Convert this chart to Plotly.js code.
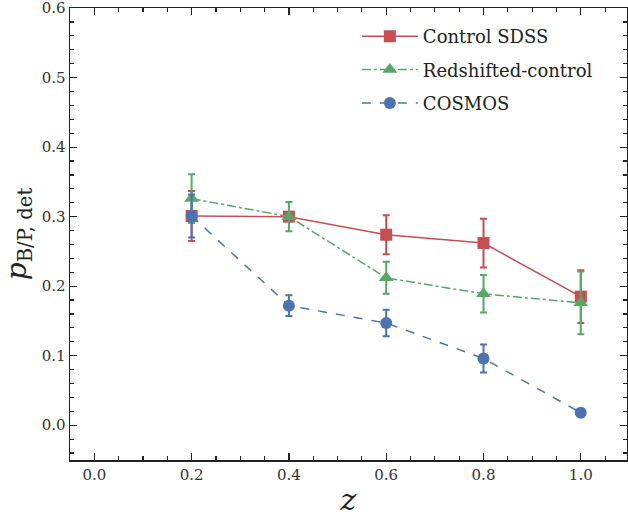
<!DOCTYPE html>
<html><head><meta charset="utf-8">
<script src="https://cdn.plot.ly/plotly-3.0.1.min.js"></script>
<style>body{margin:0;padding:0;background:#fff}#chart{width:628px;height:520px}</style>
</head><body><div id="chart"></div>
<script>
const zVals = [0.2, 0.4, 0.6, 0.8, 1.0];
const sdss = [0.301, 0.300, 0.274, 0.262, 0.185];
const sdssErr = [0.036, 0.006, 0.028, 0.035, 0.038];
const redshifted = [0.326, 0.300, 0.212, 0.189, 0.176];
const redshiftedErr = [0.035, 0.021, 0.023, 0.027, 0.045];
const cosmos = [0.301, 0.172, 0.147, 0.096, 0.018];
const cosmosErr = [0.031, 0.015, 0.019, 0.020, 0.005];
const names = ['Control SDSS', 'Redshifted-control', 'COSMOS'];

const FONT = 'DejaVu Serif';
const C = {red:'#C44E52', green:'#55A868', blue:'#4C72B0'};

function tr(name, y, err, color, dash, symbol, size, grp){
  return {x: zVals, y: y, name: name, type:'scatter', mode:'lines+markers', legendgroup:grp,
    line:{color:color, width:1.5, dash:dash},
    marker:{color:color, symbol:symbol, size:size, line:{width:0}},
    error_y:{type:'data', array: err, visible:true, color:color, thickness:2, width:3.5}};
}
const data = [
  tr(names[0], sdss, sdssErr, C.red, 'solid', 'square', 12, 'a'),
  tr(names[1], redshifted, redshiftedErr, C.green, 'dashdot', 'triangle-up', 13, 'b'),
  tr(names[2], cosmos, cosmosErr, C.blue, 'dash', 'circle', 12, 'c')
];
const axBase = {showgrid:false, zeroline:false, showline:true, linecolor:'#222', linewidth:1.5,
  ticks:'inside', ticklen:7, tickwidth:1.2, tickcolor:'#222', mirror:'allticks',
  ticklabeloverflow:'allow',
  tickfont:{family:FONT, size:15, color:'#333'}};
const layout = {
  width:628, height:520, margin:{l:70, r:1, t:8, b:60},
  font:{family:FONT, size:16, color:'#222'},
  paper_bgcolor:'#fff', plot_bgcolor:'#fff',
  showlegend:true,
  legend:{x:0.515, y:0.978, xanchor:'left', yanchor:'top', bgcolor:'rgba(0,0,0,0)',
    font:{family:FONT, size:18, color:'#222'}, itemwidth:56, tracegroupgap:7},
  xaxis: Object.assign({}, axBase, {range:[-0.05, 1.095], dtick:0.2, tick0:0, tickformat:'.1f',
    minor:{dtick:0.05, tick0:0, ticks:'inside', ticklen:4, tickcolor:'#222'},
    title:{text:'<i>z</i>', font:{family:FONT, size:30, color:'#222'}, standoff:6}}),
  yaxis: Object.assign({}, axBase, {range:[-0.05, 0.6001], dtick:0.1, tick0:0, tickformat:'.1f',
    minor:{dtick:0.02, tick0:0, ticks:'inside', ticklen:4, tickcolor:'#222'},
    title:{text:'<i>p</i><sub>B/P, det</sub>', font:{family:FONT, size:28, color:'#222'}, standoff:10}})
};
Plotly.newPlot('chart', data, layout, {displayModeBar:false, staticPlot:true});
</script></body></html>
